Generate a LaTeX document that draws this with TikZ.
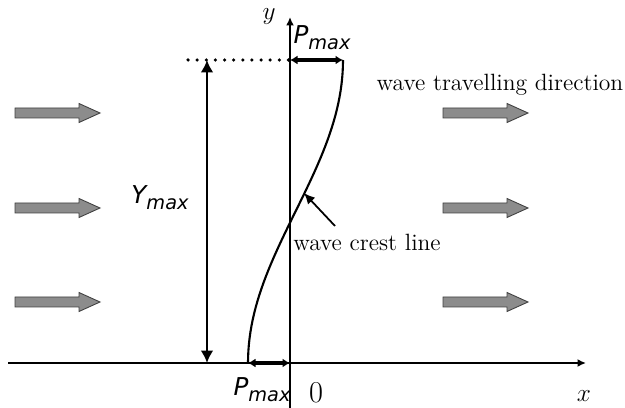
\documentclass[tikz,border=0pt]{standalone}
\usepackage{fontspec}
\newfontfamily\labelfont{DejaVu Sans}
\usetikzlibrary{arrows.meta}

\begin{document}
\begin{tikzpicture}[
  x=0.02cm,y=-0.02cm,
  axis/.style={line width=1.1pt,-{Latex[length=1.7mm,width=1.6mm]}},
  span/.style={line width=1.7pt,{Latex[length=2.5mm,width=2.6mm]}-{Latex[length=2.5mm,width=2.6mm]}},
  pspan/.style={line width=2pt,{Latex[length=1.5mm,width=1.8mm]}-{Latex[length=1.5mm,width=1.8mm]}},
  flow/.style={fill=black!45,draw=black!75,line width=0.5pt},
  crest/.style={line width=1.2pt},
  lbl/.style={font=\labelfont\itshape\fontsize{14}{16}\selectfont,inner sep=0pt},
  txt/.style={font=\fontsize{13.4}{16}\selectfont,inner sep=0pt}
]
  \useasboundingbox (0,0) rectangle (625,408);
  \coordinate (xstart) at (8,363);
  \coordinate (xend) at (586,363);
  \coordinate (ystart) at (290,408);
  \coordinate (yend) at (290,17);
  \coordinate (O) at (290,363);
  \coordinate (ptop) at (290,60);
  \coordinate (crtop) at (343,60);
  \coordinate (crbot) at (248,363);
  \coordinate (dotend) at (188,60);
  \coordinate (ytop) at (207,60);
  \coordinate (ybot) at (207,363);
  \coordinate (crestpt) at (304,193);
  \coordinate (ptr) at (335,226);

  \foreach \y in {113,208,302} {
    \foreach \x in {15,443}
      \draw[flow] (\x,\y-5) -- ++(64,0) -- ++(0,-4.5) -- ++(21,9.5)
        -- ++(-21,9.5) -- ++(0,-4.5) -- ++(-64,0) -- cycle;
  }

  \draw[axis] (xstart) -- (xend);
  \draw[axis] (ystart) -- (yend);
  \draw[line width=2pt,line cap=round,dash pattern=on 0pt off 5.2pt] (dotend) -- (ptop);
  \draw[span] (ytop) -- (ybot);
  \draw[pspan] (ptop) -- (crtop);
  \draw[pspan] (O) -- (crbot);
  \draw[crest] plot[domain=0:180,samples=50] ({295.5-47.5*cos(\x)},{363-1.68333*\x});
  \draw[line width=1pt,-{Latex[length=2.2mm,width=2mm]}] (ptr) -- (crestpt);

  \node[lbl] (pmaxtop) at (322,38) {P\raisebox{-0.45ex}{\fontsize{11}{12}\selectfont max}};
  \node[lbl] (pmaxbot) at (262,390) {P\raisebox{-0.45ex}{\fontsize{11}{12}\selectfont max}};
  \node[lbl] (ymax) at (160,198) {Y\raisebox{-0.45ex}{\fontsize{11}{12}\selectfont max}};
  \node[txt] (ylab) at (269,17) {\Large$y$};
  \node[txt] (xlab) at (584,396) {\Large$x$};
  \node[txt] (zero) at (316,393) {\LARGE 0};
  \node[txt] (travel) at (500,85) {wave travelling direction};
  \node[txt] (crestlbl) at (367,242) {wave crest line};
\end{tikzpicture}
\end{document}
